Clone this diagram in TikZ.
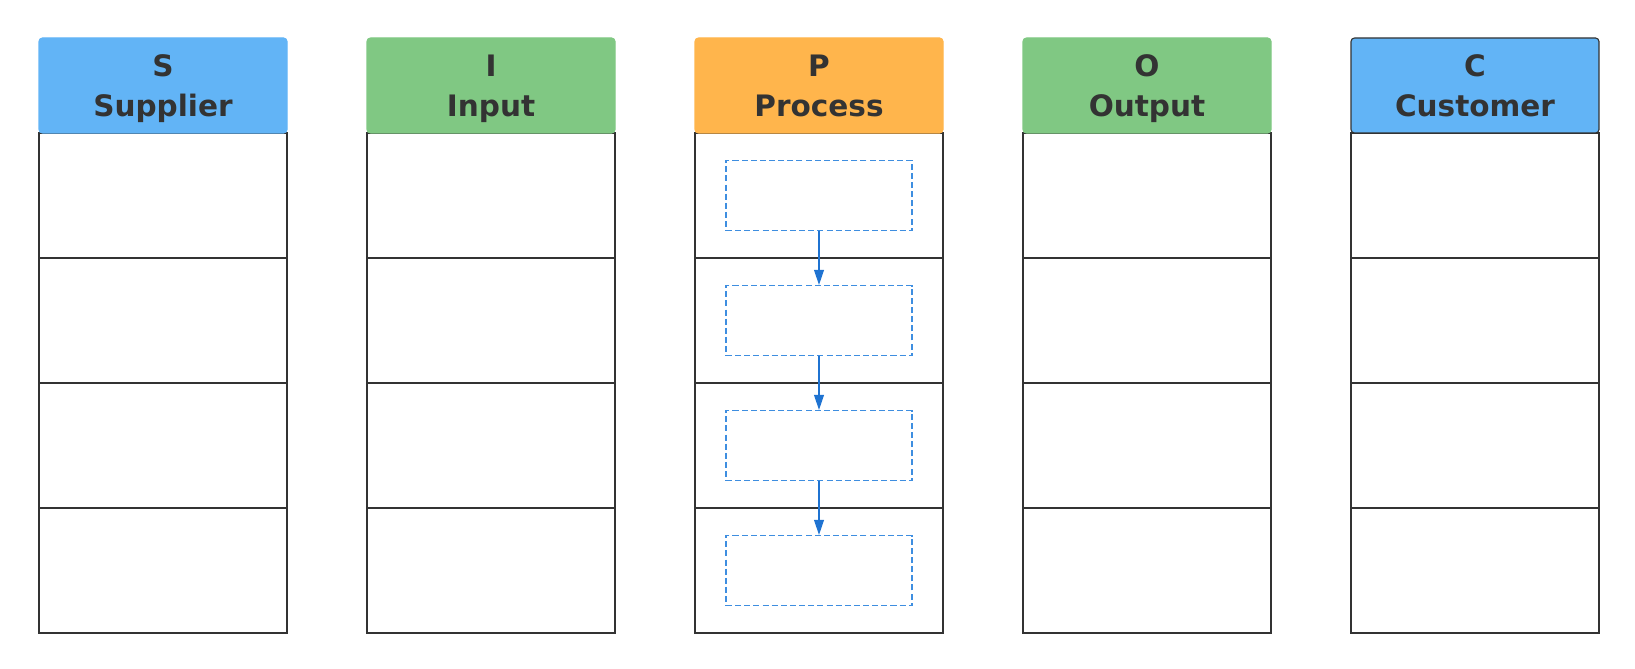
\documentclass[tikz,border=0pt]{standalone}
\usepackage{fontspec}
\usetikzlibrary{arrows.meta}
\newfontfamily\headfont{DejaVu Sans}

\definecolor{headblue}{HTML}{62B4F6}
\definecolor{headgreen}{HTML}{80C883}
\definecolor{headorange}{HTML}{FFB54C}
\definecolor{textgray}{HTML}{333333}
\definecolor{dashblue}{HTML}{3E8EE0}
\definecolor{arrowblue}{HTML}{1F73D1}

% letter on top, word below, set a little low in the header
\newcommand{\headlines}[2]{\raisebox{-2.3pt}{#1}\strut\\\raisebox{-2.3pt}{#2}\strut}

\tikzset{
  cell/.style={draw=textgray, line width=0.9pt, minimum width=6.2cm, minimum height=3.125cm, inner sep=0pt},
  head/.style={rounded corners=2.5pt, minimum width=6.2cm, minimum height=2.375cm, inner sep=0pt,
    font=\headfont\bfseries\fontsize{21}{28.5}\selectfont, text=textgray, align=center, line width=0.8pt},
  stepbox/.style={draw=dashblue, dash pattern=on 4.3pt off 2.2pt, line width=0.8pt, minimum width=4.65cm, minimum height=1.75cm, inner sep=0pt},
  flow/.style={draw=arrowblue, line width=1pt, -{Triangle[length=10.7pt,width=7pt]}}
}

\begin{document}
\begin{tikzpicture}
        \useasboundingbox (0,0) rectangle (40.875,16.7);
        % table body
        \foreach \col/\x in {s/4.075, i/12.275, p/20.475, o/28.675, c/36.875}
          \foreach \r/\y in {1/11.8125, 2/8.6875, 3/5.5625, 4/2.4375}
            \node[cell] (\col\r) at (\x,\y) {};
        % headers
        \node[head, fill=headblue, draw=headblue] (shead) at (4.075,14.5625) {\headlines{S}{Supplier}};
        \node[head, fill=headgreen, draw=headgreen] (ihead) at (12.275,14.5625) {\headlines{I}{Input}};
        \node[head, fill=headorange, draw=headorange] (phead) at (20.475,14.5625) {\headlines{P}{Process}};
        \node[head, fill=headgreen, draw=headgreen] (ohead) at (28.675,14.5625) {\headlines{O}{Output}};
        \node[head, fill=headblue, draw=textgray] (chead) at (36.875,14.5625) {\headlines{C}{Customer}};
        % process steps
        \foreach \r in {1,...,4}
            \node[stepbox] (pstep\r) at (p\r) {};
        \draw[flow] (pstep1.south) -- (pstep2.north);
        \draw[flow] (pstep2.south) -- (pstep3.north);
        \draw[flow] (pstep3.south) -- (pstep4.north);
\end{tikzpicture}
\end{document}
